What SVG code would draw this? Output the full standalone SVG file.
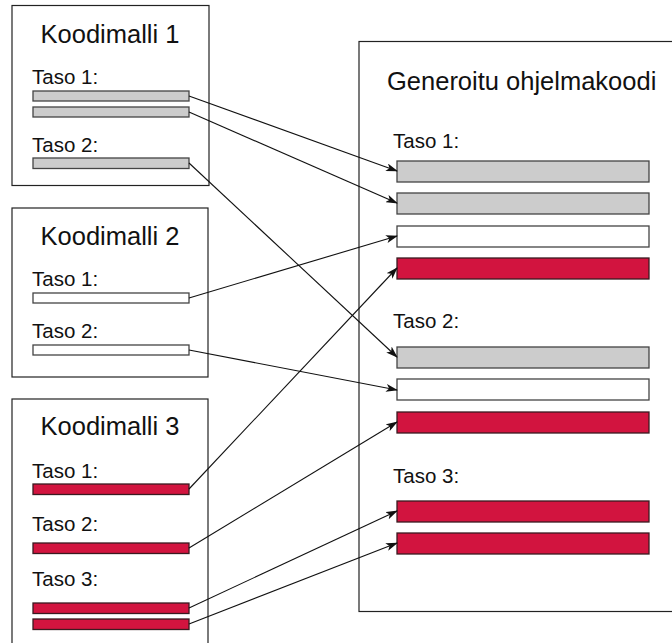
<svg xmlns="http://www.w3.org/2000/svg" width="672" height="643" viewBox="0 0 672 643">
  <style>
    text { font-family: "Liberation Sans", Arial, sans-serif; fill: #111; }
    .title { font-size: 25.5px; }
    .lvl { font-size: 20.5px; }
    .frame { fill: #fff; stroke: #222; stroke-width: 1.2; }
    .bar { stroke: #444; stroke-width: 1.3; }
    .gray { fill: #cccccc; }
    .white { fill: #ffffff; }
    .red { fill: #d2143f; stroke: #3a1a20; }
    .conn { fill: none; stroke: #111; stroke-width: 1.1; marker-end: url(#arrow); }
  </style>
  <defs>
    <marker id="arrow" viewBox="0 0 12 8" refX="11" refY="4" markerWidth="12" markerHeight="8" markerUnits="userSpaceOnUse" orient="auto">
      <path d="M0,0 L12,4 L0,8 L3,4 z" fill="#111"/>
    </marker>
  </defs>

  <rect width="672" height="643" fill="#fff"/>

  <g id="koodimalli1">
    <rect class="frame" x="12" y="5.5" width="197" height="180"/>
    <text class="title" x="110" y="43" text-anchor="middle">Koodimalli 1</text>
    <text class="lvl" x="32" y="84">Taso 1:</text>
    <rect class="bar gray" x="33" y="91" width="156" height="10"/>
    <rect class="bar gray" x="33" y="107" width="156" height="10"/>
    <text class="lvl" x="32" y="152">Taso 2:</text>
    <rect class="bar gray" x="33" y="158" width="156" height="10.5"/>
  </g>

  <g id="koodimalli2">
    <rect class="frame" x="12" y="208" width="196" height="169"/>
    <text class="title" x="110" y="245" text-anchor="middle">Koodimalli 2</text>
    <text class="lvl" x="32" y="286">Taso 1:</text>
    <rect class="bar white" x="33" y="293" width="156" height="10"/>
    <text class="lvl" x="32" y="338">Taso 2:</text>
    <rect class="bar white" x="33" y="345" width="156" height="10"/>
  </g>

  <g id="koodimalli3">
    <rect class="frame" x="12" y="399" width="196" height="260"/>
    <text class="title" x="110" y="435" text-anchor="middle">Koodimalli 3</text>
    <text class="lvl" x="32" y="478">Taso 1:</text>
    <rect class="bar red" x="33" y="484" width="156" height="10.5"/>
    <text class="lvl" x="32" y="531">Taso 2:</text>
    <rect class="bar red" x="33" y="543" width="156" height="10.5"/>
    <text class="lvl" x="32" y="586">Taso 3:</text>
    <rect class="bar red" x="33" y="603" width="156" height="10.5"/>
    <rect class="bar red" x="33" y="619" width="156" height="10.5"/>
  </g>

  <g id="generoitu">
    <rect class="frame" x="359" y="41.5" width="330" height="570"/>
    <text class="title" x="387" y="90">Generoitu ohjelmakoodi</text>
    <text class="lvl" x="393" y="148">Taso 1:</text>
    <rect class="bar gray" x="397" y="161" width="252" height="21"/>
    <rect class="bar gray" x="397" y="193" width="252" height="21"/>
    <rect class="bar white" x="397" y="226" width="252" height="21"/>
    <rect class="bar red" x="397" y="258" width="252" height="21"/>
    <text class="lvl" x="393" y="328">Taso 2:</text>
    <rect class="bar gray" x="397" y="347" width="252" height="21"/>
    <rect class="bar white" x="397" y="379" width="252" height="21"/>
    <rect class="bar red" x="397" y="412" width="252" height="21"/>
    <text class="lvl" x="393" y="483">Taso 3:</text>
    <rect class="bar red" x="397" y="501" width="252" height="21"/>
    <rect class="bar red" x="397" y="533" width="252" height="21"/>
  </g>

  <g id="connectors">
    <path class="conn" d="M189,96 L397,171"/>
    <path class="conn" d="M189,112 L397,203"/>
    <path class="conn" d="M189,163 L397,357"/>
    <path class="conn" d="M189,298 L397,236"/>
    <path class="conn" d="M189,350 L397,390"/>
    <path class="conn" d="M189,489 L397,268"/>
    <path class="conn" d="M189,548 L397,422"/>
    <path class="conn" d="M189,608 L397,511"/>
    <path class="conn" d="M189,624 L397,543"/>
  </g>
</svg>
